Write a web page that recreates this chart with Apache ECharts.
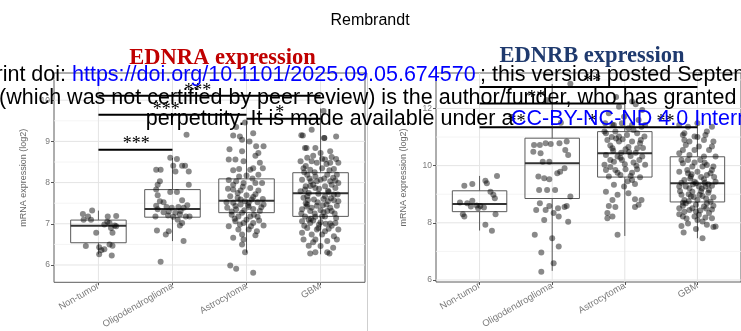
<!DOCTYPE html>
<html>
<head>
<meta charset="utf-8">
<script src="https://cdn.jsdelivr.net/npm/echarts@6/dist/echarts.min.js"></script>
<style>
html, body { margin: 0; padding: 0; background: #fff; }
#chart { width: 741px; height: 331px; }
</style>
</head>
<body>
<div id="chart"></div>
<script>
var categories = ['Non-tumor', 'Oligodendroglioma', 'Astrocytoma', 'GBM'];

// jittered points: [offset from category, mRNA value]
var ednraNonTumor = [[-0.21,7.24],[-0.14,7.18],[-0.085,7.32],[-0.2,7.10],[0.126,7.18],[0.24,7.19],[0.08,6.98],[0.15,7.02],[0.22,6.96],[0.17,6.90],[0.24,6.94],[-0.03,6.78],[0.19,6.78],[-0.17,6.46],[0.01,6.43],[0.04,6.36],[0.08,6.38],[0.15,6.50],[0.19,6.47],[0.18,6.23],[0.01,6.26],[-0.1,7.10],[0.12,7.05]];
var ednraOligo = [[0.19,9.16],[-0.03,8.60],[0.06,8.57],[0.01,8.41],[0.13,8.41],[0.17,8.41],[-0.22,8.31],[-0.16,8.31],[0.04,8.27],[0.22,8.27],[-0.17,8.03],[-0.2,7.95],[0.22,7.95],[-0.22,7.83],[-0.03,7.77],[0.06,7.77],[-0.2,7.69],[0.13,7.57],[-0.17,7.55],[-0.12,7.52],[-0.22,7.44],[-0.08,7.41],[-0.01,7.39],[0.08,7.41],[0.15,7.39],[-0.2,7.35],[-0.12,7.28],[-0.05,7.30],[0.04,7.27],[0.1,7.23],[0.18,7.18],[0.23,7.18],[-0.23,7.18],[0.01,7.17],[0.07,7.10],[0.13,7.02],[0.1,6.96],[-0.21,6.84],[-0.05,6.82],[-0.09,6.74],[0.15,6.58],[-0.16,6.08],[0.11,7.31],[0.2,7.45],[-0.06,7.2]];
var ednraAstro = [[-0.02,9.46],[-0.14,9.35],[-0.18,9.14],[-0.09,9.12],[0.09,9.20],[0.23,8.88],[0.13,8.88],[-0.23,8.81],[-0.06,8.76],[-0.24,8.56],[-0.15,8.56],[-0.04,8.52],[0.18,8.48],[0.12,8.65],[-0.18,8.30],[-0.1,8.33],[0.09,8.35],[0.22,8.35],[0.0,8.17],[0.16,8.19],[-0.24,8.06],[-0.14,8.03],[-0.04,7.99],[0.12,7.99],[0.21,7.99],[-0.25,7.85],[-0.18,7.83],[-0.08,7.81],[0.05,7.87],[0.16,7.81],[-0.22,7.67],[-0.12,7.63],[0.0,7.69],[0.09,7.65],[0.22,7.60],[-0.27,7.52],[-0.18,7.51],[-0.08,7.47],[0.03,7.51],[0.15,7.52],[0.23,7.47],[-0.26,7.39],[-0.14,7.35],[-0.03,7.33],[0.09,7.36],[0.18,7.31],[-0.2,7.22],[-0.11,7.18],[0.05,7.18],[0.15,7.17],[-0.15,7.06],[-0.04,7.02],[0.09,7.02],[0.23,6.96],[-0.24,6.94],[-0.11,6.86],[0.03,6.86],[0.14,6.82],[-0.18,6.66],[-0.06,6.74],[-0.04,6.62],[0.12,6.72],[-0.06,6.50],[-0.02,6.31],[-0.22,5.99],[-0.14,5.91],[0.09,5.81],[-0.08,7.59],[-0.02,7.55],[0.07,7.59],[-0.15,7.43],[0.03,7.41],[-0.06,7.27],[0.1,7.22],[0.0,7.10],[0.06,6.94],[-0.18,7.95],[-0.1,8.15],[0.05,8.31],[-0.06,9.04],[0.04,9.00],[0.16,8.72],[-0.12,7.75],[0.12,7.72],[-0.2,7.3],[0.2,7.4],[-0.05,7.9],[0.08,8.1],[-0.16,7.12],[0.17,7.08],[-0.09,6.98],[0.02,7.45]];
var ednraGbm = [[0.04,9.74],[-0.26,9.15],[-0.19,8.84],[0.05,9.08],[0.21,9.12],[-0.12,9.28],[0.05,9.08],[-0.24,9.14],[-0.21,8.84],[-0.07,8.84],[0.13,8.76],[0.0,8.72],[-0.18,8.60],[0.21,8.57],[0.06,8.56],[-0.27,8.52],[-0.12,8.52],[-0.05,8.48],[0.13,8.48],[0.24,8.48],[-0.23,8.35],[-0.14,8.31],[0.02,8.35],[0.18,8.33],[-0.18,8.19],[-0.07,8.15],[0.09,8.19],[0.22,8.19],[-0.25,8.07],[-0.13,8.03],[0.0,8.07],[0.13,8.03],[0.24,7.99],[-0.2,7.91],[-0.07,7.87],[0.06,7.91],[0.2,7.87],[-0.27,7.79],[-0.16,7.75],[-0.03,7.73],[0.11,7.77],[0.23,7.71],[-0.23,7.63],[-0.09,7.59],[0.04,7.60],[0.18,7.57],[-0.18,7.47],[-0.05,7.44],[0.08,7.47],[0.22,7.44],[-0.25,7.35],[-0.14,7.31],[0.0,7.33],[0.15,7.31],[-0.21,7.18],[-0.07,7.17],[0.06,7.18],[0.21,7.14],[-0.25,7.06],[-0.14,7.02],[0.0,7.04],[0.13,7.01],[-0.18,6.90],[-0.05,6.86],[0.11,6.88],[0.24,6.86],[-0.25,6.78],[-0.12,6.74],[0.02,6.74],[0.18,6.70],[-0.23,6.62],[-0.07,6.62],[0.09,6.58],[-0.16,6.47],[0.0,6.46],[0.17,6.42],[-0.14,6.28],[-0.07,6.31],[0.09,6.31],[0.12,6.28],[-0.18,7.67],[0.06,7.67],[-0.05,8.03],[-0.12,7.39],[0.13,7.39],[0.02,7.18],[0.18,7.71],[-0.21,7.83],[0.09,7.31],[-0.16,7.10],[-0.1,7.95],[0.15,7.95],[-0.02,7.85],[0.1,7.55],[-0.2,7.5],[0.03,7.45],[-0.08,7.25],[0.19,7.25],[-0.13,7.12],[0.07,7.0],[-0.22,6.95],[0.15,6.95],[-0.03,6.9],[0.05,8.1],[-0.15,8.1],[0.2,8.05],[-0.08,8.25],[0.12,8.3],[-0.2,8.4],[0.08,8.45],[-0.17,7.58],[0.14,7.62],[-0.04,7.52],[0.24,7.55],[-0.26,7.25],[0.04,7.28],[-0.1,7.08],[0.2,7.02],[-0.19,7.42],[0.1,7.8],[-0.14,7.92],[0.17,8.12],[-0.22,8.25],[0.02,8.58],[-0.1,8.65],[0.15,8.62],[-0.02,6.98],[0.22,6.62],[-0.1,6.55],[0.06,6.82]];

var ednrbNonTumor = [[-0.21,9.30],[-0.1,9.36],[0.08,9.47],[0.1,9.38],[0.24,9.64],[0.15,9.09],[0.19,8.98],[0.21,8.86],[-0.27,8.71],[-0.17,8.68],[-0.1,8.77],[-0.04,8.61],[0.01,8.59],[0.06,8.54],[-0.02,8.51],[-0.23,8.30],[-0.21,8.22],[0.22,8.30],[0.08,7.93],[0.17,7.72],[-0.12,8.57]];
var ednrbOligo = [[-0.25,10.72],[-0.17,10.72],[-0.09,10.78],[-0.02,10.76],[0.1,10.78],[0.2,10.84],[-0.26,10.49],[-0.16,10.43],[0.18,10.55],[0.22,10.37],[-0.13,10.14],[-0.04,10.14],[0.07,9.73],[0.11,9.79],[0.17,9.91],[-0.19,9.62],[-0.11,9.56],[-0.04,9.52],[-0.18,9.15],[-0.07,9.15],[0.04,9.15],[0.25,8.92],[-0.17,8.68],[-0.04,8.59],[0.08,8.51],[0.17,8.55],[0.2,8.59],[-0.22,8.45],[-0.09,8.45],[0.02,8.34],[0.09,8.22],[-0.11,8.10],[0.22,8.04],[-0.24,7.58],[0.0,7.46],[0.09,7.17],[-0.15,6.96],[0.02,6.59],[-0.15,6.29],[0.25,12.86],[0.12,11.5],[-0.08,12.3]];
var ednrbAstro = [[-0.27,11.48],[-0.17,11.42],[-0.04,11.48],[0.1,11.42],[0.23,11.36],[-0.26,11.13],[-0.13,11.19],[0.03,11.07],[0.17,11.13],[0.27,11.02],[-0.24,10.90],[-0.08,10.84],[0.1,10.84],[0.21,10.78],[-0.17,10.61],[0.01,10.57],[0.17,10.61],[-0.26,10.37],[-0.1,10.32],[0.08,10.34],[0.24,10.32],[-0.15,10.14],[-0.04,10.20],[0.12,10.11],[-0.26,9.85],[-0.13,9.85],[0.01,9.87],[0.17,9.87],[-0.22,9.62],[-0.06,9.67],[0.08,9.64],[0.21,9.59],[-0.15,9.33],[-0.01,9.27],[0.14,9.36],[-0.26,9.09],[-0.1,8.98],[0.05,9.03],[-0.17,8.80],[0.14,8.82],[0.23,8.80],[-0.22,8.59],[-0.13,8.55],[0.14,8.55],[0.19,8.63],[-0.24,8.34],[-0.17,8.22],[-0.24,8.16],[-0.1,7.58],[-0.28,10.03],[0.28,10.03],[0.1,9.50],[-0.08,12.06],[0.1,12.24],[-0.22,11.83],[-0.01,11.71],[0.19,11.60],[-0.15,11.42],[0.05,11.31],[0.28,11.42],[-0.28,11.19],[0.24,11.95],[-0.08,11.02],[-0.12,12.4],[0.15,12.15],[-0.2,10.7],[0.05,10.65],[0.15,10.45],[-0.05,10.45],[0.22,10.9],[-0.12,10.95],[0.0,10.05],[0.2,10.2],[-0.2,10.2],[0.1,9.75],[-0.1,9.75],[-0.18,11.0],[0.12,11.25],[-0.03,10.92],[0.06,10.48],[-0.16,10.52],[0.25,10.62],[-0.06,10.28],[0.16,10.0],[-0.2,9.95],[0.04,9.45]];
var ednrbGbm = [[-0.25,11.42],[-0.13,11.36],[0.0,11.48],[0.2,11.36],[-0.2,11.07],[-0.04,11.02],[0.11,11.07],[0.22,10.84],[-0.16,10.72],[0.02,10.67],[0.16,10.55],[-0.25,10.43],[-0.11,10.37],[0.09,10.32],[0.25,10.32],[-0.2,10.08],[-0.04,10.11],[0.13,10.02],[0.22,9.97],[-0.25,9.79],[-0.13,9.73],[0.0,9.79],[0.18,9.73],[-0.18,9.50],[-0.04,9.44],[0.09,9.52],[0.25,9.44],[-0.25,9.27],[-0.11,9.21],[0.02,9.27],[0.16,9.15],[-0.22,8.98],[-0.09,8.92],[0.07,8.94],[0.22,8.89],[-0.16,8.68],[-0.02,8.63],[0.13,8.68],[-0.25,8.51],[-0.11,8.45],[0.04,8.43],[0.2,8.47],[-0.2,8.22],[-0.04,8.22],[0.11,8.19],[-0.13,7.98],[0.0,8.10],[0.2,8.16],[-0.22,7.89],[-0.02,7.78],[0.13,7.93],[0.22,7.85],[-0.19,7.66],[0.07,7.46],[0.25,7.87],[-0.07,9.97],[0.07,9.97],[-0.16,9.27],[0.11,9.27],[-0.07,9.09],[-0.02,9.38],[-0.18,8.80],[0.0,8.80],[0.18,8.74],[-0.07,8.51],[0.09,8.57],[-0.18,8.39],[0.16,8.34],[0.02,8.28],[-0.09,9.62],[0.13,9.67],[0.04,10.20],[-0.13,10.20],[-0.04,10.55],[-0.18,10.90],[0.09,10.90],[-0.18,11.13],[0.0,11.0],[0.13,11.19],[-0.11,10.84],[0.2,10.67],[-0.2,10.55],[0.05,9.1],[-0.12,9.0],[0.15,9.05],[-0.05,8.9],[0.2,9.3],[-0.22,9.4],[0.1,9.4],[-0.1,9.55],[0.05,9.6],[-0.2,8.6],[0.12,8.85],[-0.15,8.15],[0.07,8.05],[-0.25,8.3],[-0.14,9.85],[0.2,9.85],[-0.06,9.35],[0.15,9.35],[-0.24,9.1],[0.03,8.98],[-0.12,8.75],[0.22,8.6],[-0.02,8.4],[0.12,8.5],[-0.2,8.7],[0.06,9.2],[-0.08,9.7],[0.1,10.1],[-0.22,10.2],[0.23,9.6]];

// box stats: [low whisker, q1, median, q3, high whisker]
var ednraBoxes = [[6.26,6.54,6.95,7.09,7.32],[6.58,7.16,7.36,7.83,8.60],[6.30,7.27,7.56,8.09,9.50],[6.26,7.18,7.74,8.24,9.80]];
var ednrbBoxes = [[7.73,8.39,8.66,9.12,9.64],[6.32,8.85,10.08,10.96,12.85],[7.54,9.60,10.43,11.19,12.2],[7.46,8.73,9.38,10.31,11.55]];

var ednraTicks = [6, 7, 8, 9, 10];
var ednraMinor = [6.5, 7.5, 8.5, 9.5, 10.5];
var ednrbTicks = [6, 8, 10, 12];
var ednrbMinor = [7, 9, 11, 13];

// significance bars: [from, to, height, label x]
var ednraSig = [[1,2,8.80,1.51],[1,3,9.645,1.915],[3,4,9.55,3.45],[1,4,10.105,2.34]];
var ednraSigText = ['***', '***', '*', '***'];
var ednrbSig = [[1,4,12.75,2.55],[1,3,12.17,1.78],[1,2,11.34,1.51],[2,3,11.34,2.55],[3,4,11.34,3.56]];
var ednrbSigText = ['**', '**', '**', '*', '**'];

var myChart = echarts.init(document.getElementById('chart'));
var gray = '#7a7a7a';

function jitter(groups) {
    var out = [];
    groups.forEach(function (g, i) {
        g.forEach(function (p) { out.push([i + 1 + p[0], p[1]]); });
    });
    return out;
}

function gridLines(ticks, minor) {
    var out = [];
    minor.forEach(function (v) { out.push([0, v, 0]); });
    ticks.forEach(function (v) { out.push([0, v, 1]); });
    categories.forEach(function (c, i) { out.push([1, i + 1, 1]); });
    return out;
}

function renderGridLine(params, api) {
    var cs = params.coordSys;
    var dir = api.value(0), v = api.value(1), major = api.value(2);
    var shape;
    if (dir === 0) {
        var y = api.coord([1, v])[1];
        shape = {x1: cs.x, y1: y, x2: cs.x + cs.width, y2: y};
    } else {
        var x = api.coord([v, 8])[0];
        shape = {x1: x, y1: cs.y, x2: x, y2: cs.y + cs.height};
    }
    return {type: 'line', shape: shape, style: {stroke: major ? '#e4e4e4' : '#f1f1f1', lineWidth: major ? 1 : 0.8}};
}

function renderBox(params, api) {
    var x = api.value(0);
    var lo = api.coord([x, api.value(1)]);
    var q1 = api.coord([x, api.value(2)]);
    var md = api.coord([x, api.value(3)]);
    var q3 = api.coord([x, api.value(4)]);
    var hi = api.coord([x, api.value(5)]);
    var half = api.size([0.75, 0])[0] / 2;
    var st = {stroke: '#5a5a5a', lineWidth: 1, fill: null};
    return {type: 'group', children: [
        {type: 'line', shape: {x1: lo[0], y1: lo[1], x2: q1[0], y2: q1[1]}, style: st},
        {type: 'line', shape: {x1: q3[0], y1: q3[1], x2: hi[0], y2: hi[1]}, style: st},
        {type: 'rect', shape: {x: q3[0] - half, y: q3[1], width: half * 2, height: q1[1] - q3[1]}, style: {stroke: '#5a5a5a', lineWidth: 1, fill: 'transparent'}},
        {type: 'line', shape: {x1: md[0] - half, y1: md[1], x2: md[0] + half, y2: md[1]}, style: {stroke: '#333', lineWidth: 2}}
    ]};
}

function makeSigRender(labels) {
    return function (params, api) {
        var a = api.coord([api.value(0), api.value(2)]);
        var b = api.coord([api.value(1), api.value(2)]);
        var t = api.coord([api.value(3), api.value(2)]);
        return {type: 'group', children: [
            {type: 'line', shape: {x1: a[0], y1: a[1], x2: b[0], y2: b[1]}, style: {stroke: '#000', lineWidth: 2}},
            {type: 'text', x: t[0], y: t[1] - 5, style: {text: labels[params.dataIndex], fill: '#000', font: '18px "Liberation Serif"', align: 'center', verticalAlign: 'middle'}}
        ]};
    };
}

function boxData(boxes) {
    return boxes.map(function (b, i) { return [i + 1].concat(b); });
}

function xAxisFor(gi) {
    return {
        type: 'value', gridIndex: gi, min: 0.4, max: 4.6,
        axisLine: {show: false}, splitLine: {show: false},
        axisTick: {customValues: [1, 2, 3, 4], length: 3, lineStyle: {color: '#555'}},
        axisLabel: {
            customValues: [1, 2, 3, 4], rotate: 30, margin: 3,
            color: gray, fontSize: 9.5, fontFamily: 'Liberation Sans',
            formatter: function (v) { return categories[Math.round(v) - 1]; }
        }
    };
}

function yAxisFor(gi, min, max, ticks, gap) {
    return {
        type: 'value', gridIndex: gi, min: min, max: max,
        axisLine: {show: false}, splitLine: {show: false},
        axisTick: {customValues: ticks, length: 3, lineStyle: {color: '#555'}},
        axisLabel: {customValues: ticks, margin: 4, color: gray, fontSize: 8.5, fontFamily: 'Liberation Sans'},
        name: 'mRNA expression (log2)', nameLocation: 'middle', nameGap: gap,
        nameTextStyle: {color: '#666', fontSize: 9, fontFamily: 'Liberation Sans'}
    };
}

function panelSeries(gi, groups, boxes, ticks, minor, sig, sigText) {
    return [{
        type: 'custom', xAxisIndex: gi, yAxisIndex: gi, z: 1, silent: true,
        renderItem: renderGridLine, data: gridLines(ticks, minor)
    }, {
        type: 'custom', xAxisIndex: gi, yAxisIndex: gi, z: 2, silent: true,
        renderItem: renderBox, data: boxData(boxes)
    }, {
        type: 'scatter', xAxisIndex: gi, yAxisIndex: gi, z: 3, silent: true,
        symbolSize: 6, itemStyle: {color: 'rgba(0,0,0,0.58)'},
        data: jitter(groups)
    }, {
        type: 'custom', xAxisIndex: gi, yAxisIndex: gi, z: 4, silent: true,
        renderItem: makeSigRender(sigText), data: sig
    }];
}

function txt(x, y, text, font, color, align) {
    return {type: 'text', x: x, y: y, z: 100, silent: true,
        style: {text: text, font: font, fill: color, textAlign: align, align: align, textVerticalAlign: 'middle', verticalAlign: 'middle'}};
}

var noteFont = '21.5px "Liberation Sans"';

var option = {
    backgroundColor: '#fff',
    animation: false,
    grid: [
        {left: 54, top: 73, width: 311, height: 210, show: true, borderColor: '#5c5c5c', borderWidth: 1, backgroundColor: 'transparent'},
        {left: 436, top: 73, width: 311, height: 209, show: true, borderColor: '#5c5c5c', borderWidth: 1, backgroundColor: 'transparent'}
    ],
    xAxis: [xAxisFor(0), xAxisFor(1)],
    yAxis: [yAxisFor(0, 5.58, 10.66, ednraTicks, 26), yAxisFor(1, 5.93, 13.24, ednrbTicks, 28)],
    series: panelSeries(0, [ednraNonTumor, ednraOligo, ednraAstro, ednraGbm], ednraBoxes, ednraTicks, ednraMinor, ednraSig, ednraSigText)
        .concat(panelSeries(1, [ednrbNonTumor, ednrbOligo, ednrbAstro, ednrbGbm], ednrbBoxes, ednrbTicks, ednrbMinor, ednrbSig, ednrbSigText)),
    graphic: [
        {type: 'line', z: 0, silent: true, shape: {x1: 367.5, y1: 73, x2: 367.5, y2: 331}, style: {stroke: '#cfcfcf', lineWidth: 1}},
        txt(370, 21, 'Rembrandt', '16px "Liberation Sans"', '#000', 'center'),
        txt(222.5, 58, 'EDNRA expression', 'bold 22.5px "Liberation Serif"', '#c00000', 'center'),
        txt(592, 56.5, 'EDNRB expression', 'bold 22.5px "Liberation Serif"', '#1f3a6e', 'center'),
        // bioRxiv watermark lines
        txt(72, 75.2, 'bioRxiv preprint doi: ', noteFont, '#000', 'right'),
        txt(72, 75.2, 'https://doi.org/10.1101/2025.09.05.674570', noteFont, '#0000ff', 'left'),
        txt(480, 75.2, '; this version posted September 9, 2025. The copyright holder for this preprint', noteFont, '#000', 'left'),
        txt(-1, 98.5, '(which was not certified by peer review) is the author/funder, who has granted bioRxiv a license to display the preprint in', noteFont, '#000', 'left'),
        txt(145.7, 119.5, 'perpetuity. It is made available under a', noteFont, '#000', 'left'),
        txt(511, 119.5, 'CC-BY-NC-ND 4.0 International license', noteFont, '#0000ff', 'left')
    ]
};

myChart.setOption(option);
</script>
</body>
</html>
